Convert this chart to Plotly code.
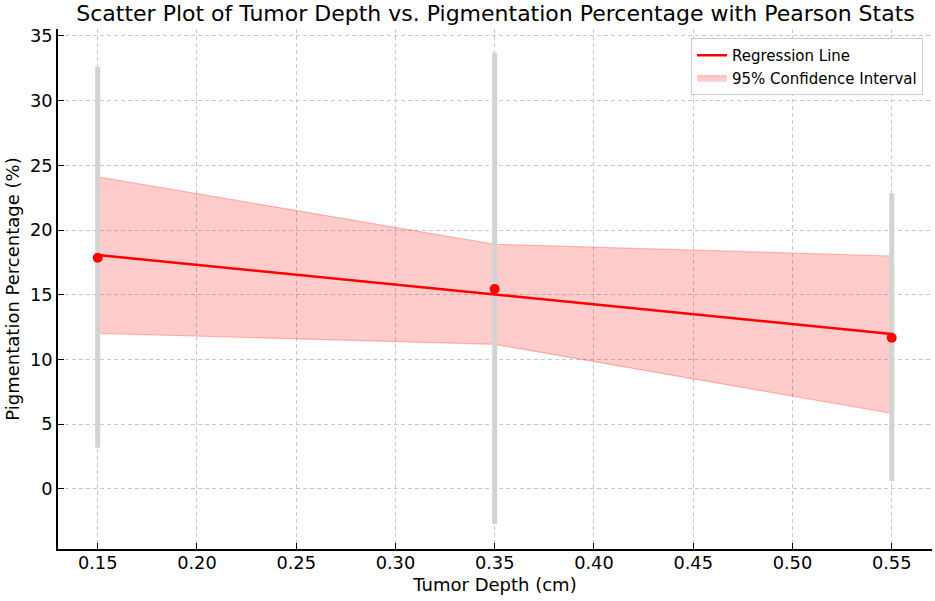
import plotly.graph_objects as go

depth = [0.15, 0.35, 0.55]
pigment = [17.86, 15.44, 11.67]
err_low = [3.17, -2.73, 0.60]
err_high = [32.63, 33.70, 22.84]
reg_line = [18.07, 15.02, 11.96]
ci_upper = [24.12, 18.90, 17.99]
ci_lower = [12.01, 11.16, 5.83]

font = "DejaVu Sans"
fig = go.Figure()

fig.add_trace(go.Scatter(
    x=depth + depth[::-1], y=ci_upper + ci_lower[::-1],
    fill="toself", fillcolor="rgba(255,0,0,0.2)",
    line=dict(color="rgba(255,0,0,0.25)", width=1.2),
    mode="lines", name="95% Confidence Interval", legendrank=2,
))
fig.add_trace(go.Scatter(
    x=depth, y=pigment, mode="markers",
    marker=dict(size=1, color="rgba(0,0,0,0)"),
    error_y=dict(type="data", symmetric=False,
                 array=[h - p for h, p in zip(err_high, pigment)],
                 arrayminus=[p - l for l, p in zip(err_low, pigment)],
                 color="#d3d3d3", thickness=5, width=0),
    showlegend=False, hoverinfo="skip",
))
fig.add_trace(go.Scatter(
    x=depth, y=reg_line, mode="lines",
    line=dict(color="red", width=2.5), name="Regression Line", legendrank=1,
))
fig.add_trace(go.Scatter(
    x=depth, y=pigment, mode="markers",
    marker=dict(size=10, color="red"), showlegend=False,
))

axis_common = dict(
    showline=True, linecolor="black", linewidth=1.5, mirror=False,
    ticks="inside", ticklen=6, tickcolor="black", tickwidth=1.2,
    showgrid=True, gridcolor="#c8c8c8", gridwidth=1, griddash="4px,3px",
    zeroline=False, automargin=False,
    tickfont=dict(family=font, size=17.8, color="black"),
)

fig.update_layout(
    width=935, height=601,
    margin=dict(l=58, r=3, t=29, b=52),
    paper_bgcolor="white", plot_bgcolor="white",
    font=dict(family=font, color="black"),
    title=dict(text="Scatter Plot of Tumor Depth vs. Pigmentation Percentage with Pearson Stats",
               x=(79 + 912) / 2 / 935, xanchor="center", y=1 - 13 / 601, yanchor="middle",
               font=dict(family=font, size=22, color="black")),
    xaxis=dict(range=[0.13, 0.5703], tickvals=[0.15, 0.20, 0.25, 0.30, 0.35, 0.40, 0.45, 0.50, 0.55],
               tickformat=".2f", ticklabelstandoff=-3,
               title=dict(text="Tumor Depth (cm)", font=dict(family=font, size=18), standoff=6),
               **axis_common),
    yaxis=dict(range=[-4.66, 35.54], tickvals=[0, 5, 10, 15, 20, 25, 30, 35],
               title=dict(text="Pigmentation Percentage (%)", font=dict(family=font, size=18), standoff=6),
               **axis_common),
    legend=dict(x=0.9897, y=0.9827, xanchor="right", yanchor="top",
                bgcolor="white", bordercolor="#cccccc", borderwidth=1,
                font=dict(family=font, size=15, color="black"), tracegroupgap=0),
)

fig.write_html("out.html", config={"displayModeBar": False},
               post_script="document.body.style.margin='0';")
